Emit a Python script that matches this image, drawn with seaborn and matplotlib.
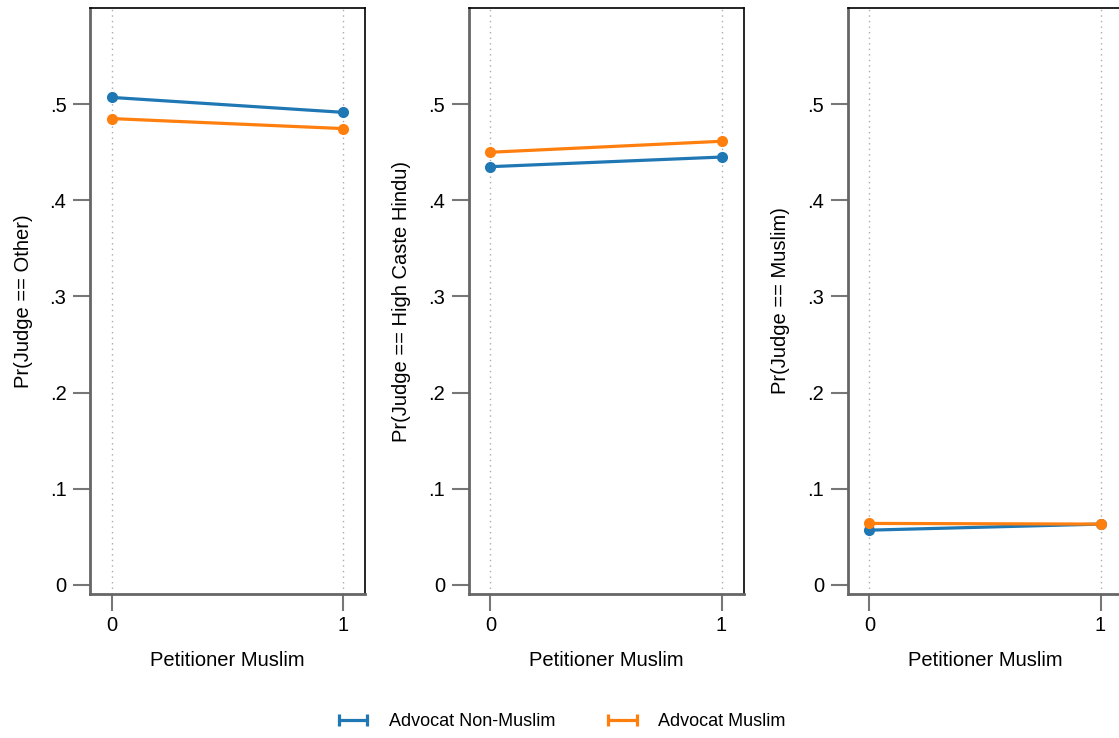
import matplotlib
matplotlib.use("Agg")
import matplotlib.pyplot as plt
import seaborn as sns
import pandas as pd
from matplotlib.lines import Line2D

# ---- data ----
petitioner_muslim = [0, 1]
series_names = ["Advocat Non-Muslim", "Advocat Muslim"]
panel_labels = ["Pr(Judge == Other)", "Pr(Judge == High Caste Hindu)", "Pr(Judge == Muslim)"]
other_nonmuslim = [0.507, 0.4915]
other_muslim = [0.485, 0.4746]
hindu_nonmuslim = [0.435, 0.445]
hindu_muslim = [0.450, 0.4614]
muslim_nonmuslim = [0.057, 0.0633]
muslim_muslim = [0.064, 0.0633]
y_ticks = [0, 0.1, 0.2, 0.3, 0.4, 0.5]
y_tick_labels = ["0", ".1", ".2", ".3", ".4", ".5"]
x_tick_labels = ["0", "1"]
colors = ["#1f77b4", "#ff7f0e"]

panels = [
    (other_nonmuslim, other_muslim),
    (hindu_nonmuslim, hindu_muslim),
    (muslim_nonmuslim, muslim_muslim),
]

sns.set_theme(style="white")
plt.rcParams["font.family"] = ["Liberation Sans", "DejaVu Sans"]
plt.rcParams["text.color"] = "black"
plt.rcParams["axes.labelcolor"] = "black"

W, H = 1119, 738
fig = plt.figure(figsize=(W / 100, H / 100), dpi=100)

lefts = [90, 468.5, 847.5]
top_px, bottom_px, width_px = 8, 594, 275

for i, (nm, mu) in enumerate(panels):
    ax = fig.add_axes([lefts[i] / W, (H - bottom_px) / H, width_px / W, (bottom_px - top_px) / H])
    df = pd.DataFrame({
        "x": petitioner_muslim * 2,
        "y": list(nm) + list(mu),
        "series": [series_names[0]] * 2 + [series_names[1]] * 2,
    })
    sns.lineplot(data=df, x="x", y="y", hue="series", palette=colors, marker="o",
                 markersize=8, markeredgewidth=0, linewidth=2.3, ax=ax, legend=False,
                 zorder=3)
    ax.set_xlim(-0.095, 1.095)
    ax.set_ylim(-0.0094, 0.6)
    ax.set_xticks(petitioner_muslim)
    ax.set_xticklabels(x_tick_labels)
    ax.set_yticks(y_ticks)
    ax.set_yticklabels(y_tick_labels)
    ax.tick_params(axis="both", direction="out", length=12, width=1.5, color="#777777",
                   labelsize=14.5, labelcolor="black", pad=5, left=True, bottom=True)
    ax.tick_params(axis="x", pad=4)
    ax.xaxis.grid(True, linestyle=(0, (1, 3)), color="#aaaaaa", linewidth=1)
    ax.yaxis.grid(False)
    for s in ["left", "bottom"]:
        ax.spines[s].set_color("#666666")
        ax.spines[s].set_linewidth(2)
    for s in ["top", "right"]:
        ax.spines[s].set_color("black")
        ax.spines[s].set_linewidth(1.2)
    ax.set_xlabel("Petitioner Muslim", fontsize=14.5, labelpad=11, color="black")
    ax.set_ylabel(panel_labels[i], fontsize=14.5, labelpad=12, color="black")

handles = [Line2D([0, 1], [0, 0], color=c, linewidth=2.3, marker="|", markersize=9,
                  markeredgewidth=2.3) for c in colors]
fig.legend(handles, series_names, loc="center", bbox_to_anchor=(0.5, 16 / H), ncol=2,
           frameon=False, fontsize=13, numpoints=2, handlelength=2.2, handletextpad=0.9,
           columnspacing=2.6)

fig.savefig("out.png", dpi=100)
